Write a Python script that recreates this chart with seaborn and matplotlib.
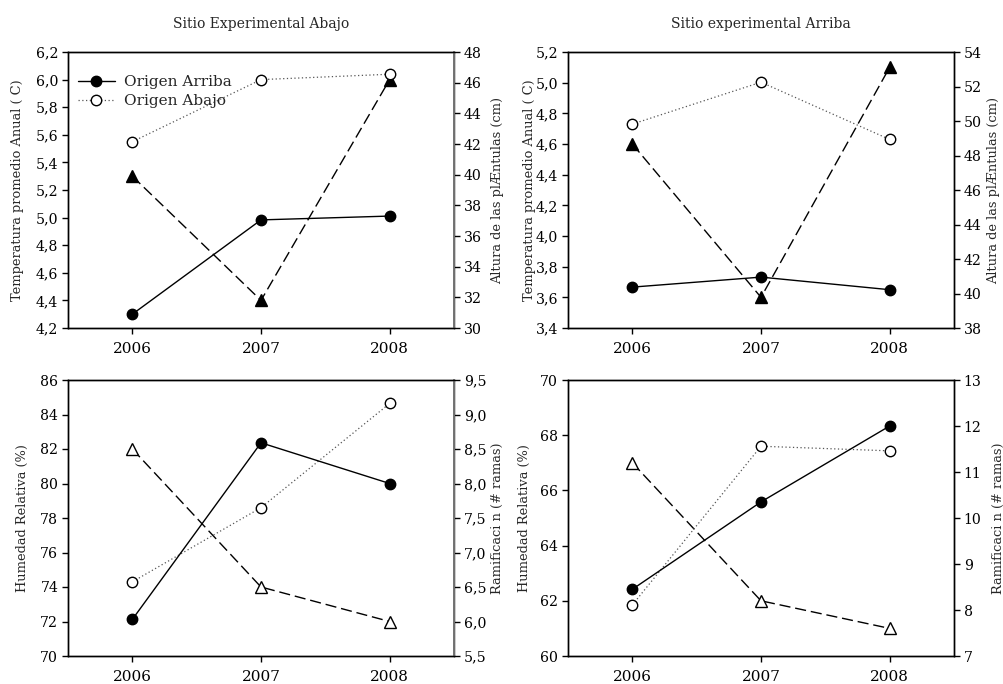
import matplotlib
matplotlib.use("Agg")
import matplotlib.pyplot as plt
from matplotlib.ticker import FuncFormatter, MultipleLocator
from matplotlib.lines import Line2D
import seaborn as sns
import pandas as pd

years = [2006, 2007, 2008]

# Top-left: Sitio Experimental Abajo
tl_temp = [5.3, 4.4, 6.0]
tl_arriba = [30.9, 37.05, 37.3]
tl_abajo = [42.15, 46.2, 46.55]

# Top-right: Sitio experimental Arriba
tr_temp = [4.6, 3.6, 5.1]
tr_arriba = [40.37, 40.95, 40.22]
tr_abajo = [49.82, 52.25, 48.93]

# Bottom-left: humidity / branching (site Abajo)
bl_hum = [82.0, 74.0, 72.0]
bl_arriba = [6.03, 8.59, 8.0]
bl_abajo = [6.575, 7.65, 9.16]

# Bottom-right: humidity / branching (site Arriba)
br_hum = [67.0, 62.0, 61.0]
br_arriba = [8.45, 10.35, 12.0]
br_abajo = [8.11, 11.56, 11.46]

titles = ["Sitio Experimental Abajo", "Sitio experimental Arriba"]
label_temp = "Temperatura promedio Anual ( C)"
label_alt = "Altura de las plÆntulas (cm)"
label_hum = "Humedad Relativa (%)"
label_ram = "Ramificaci n (# ramas)"
legend_labels = ["Origen Arriba", "Origen Abajo"]

sns.set_theme(style="ticks")
plt.rcParams["font.family"] = ["DejaVu Serif"]
plt.rcParams["axes.linewidth"] = 1.0

fig = plt.figure(figsize=(10.04, 6.84), dpi=100)

W = 386 / 1004
H = 276 / 684
positions = [
    (68 / 1004, 1 - 328 / 684, W, H),
    (568 / 1004, 1 - 328 / 684, W, H),
    (68 / 1004, 1 - 656 / 684, W, H),
    (568 / 1004, 1 - 656 / 684, W, H),
]

panels = [
    dict(left=tl_temp, arr=tl_arriba, aba=tl_abajo, lyl=(4.2, 6.2), lstep=0.2, ryl=(30, 48), rstep=2,
         lfmt=1, rfmt=0, llab=label_temp, rlab=label_alt, tri_fill="black", title=titles[0],
         legend=True, loff=50, roff=44, rspine="0.45"),
    dict(left=tr_temp, arr=tr_arriba, aba=tr_abajo, lyl=(3.4, 5.2), lstep=0.2, ryl=(38, 54), rstep=2,
         lfmt=1, rfmt=0, llab=label_temp, rlab=label_alt, tri_fill="black", title=titles[1],
         legend=False, loff=38, roff=40, rspine="black"),
    dict(left=bl_hum, arr=bl_arriba, aba=bl_abajo, lyl=(70, 86), lstep=2, ryl=(5.5, 9.5), rstep=0.5,
         lfmt=0, rfmt=1, llab=label_hum, rlab=label_ram, tri_fill="white", title=None,
         legend=False, loff=46, roff=43, rspine="0.45"),
    dict(left=br_hum, arr=br_arriba, aba=br_abajo, lyl=(60, 70), lstep=2, ryl=(7, 13), rstep=1,
         lfmt=0, rfmt=0, llab=label_hum, rlab=label_ram, tri_fill="white", title=None,
         legend=False, loff=44, roff=44, rspine="black"),
]


def fmt(decimals):
    return FuncFormatter(lambda v, p: (f"{v:.{decimals}f}").replace(".", ","))


xtick_fs = 11
ytick_fs = 10.2
label_fs = 9.4
msize = 7.5

for pos, p in zip(positions, panels):
    ax = fig.add_axes(pos)
    ax2 = ax.twinx()

    df_left = pd.DataFrame({"year": years, "v": p["left"]})
    df_arr = pd.DataFrame({"year": years, "v": p["arr"]})
    df_aba = pd.DataFrame({"year": years, "v": p["aba"]})

    sns.lineplot(data=df_left, x="year", y="v", ax=ax, color="black", linewidth=1.0,
                 linestyle=(0, (8, 3.5)), marker="^", markersize=8,
                 markerfacecolor=p["tri_fill"], markeredgecolor="black", markeredgewidth=1.0,
                 legend=False)
    sns.lineplot(data=df_aba, x="year", y="v", ax=ax2, color="#555555", linewidth=0.9,
                 linestyle=(0, (1, 2)), marker="o", markersize=msize,
                 markerfacecolor="white", markeredgecolor="black", markeredgewidth=1.0,
                 legend=False)
    sns.lineplot(data=df_arr, x="year", y="v", ax=ax2, color="black", linewidth=1.0,
                 linestyle="-", marker="o", markersize=msize,
                 markerfacecolor="black", markeredgecolor="black", markeredgewidth=1.0,
                 legend=False)

    ax.set_xlim(2005.5, 2008.5)
    ax.set_xticks(years)
    ax.set_xticklabels([str(y) for y in years])
    ax.set_ylim(*p["lyl"])
    ax.yaxis.set_major_locator(MultipleLocator(p["lstep"]))
    ax.yaxis.set_major_formatter(fmt(p["lfmt"]))
    ax2.set_ylim(*p["ryl"])
    ax2.yaxis.set_major_locator(MultipleLocator(p["rstep"]))
    ax2.yaxis.set_major_formatter(fmt(p["rfmt"]))

    ax.set_xlabel("")
    ax.set_ylabel(p["llab"], fontsize=label_fs)
    ax2.set_ylabel(p["rlab"], fontsize=label_fs)
    ax.yaxis.set_label_coords(-p["loff"] / 386, 0.5)
    ax2.yaxis.set_label_coords(1 + p["roff"] / 386, 0.5)
    ax.yaxis.label.set_verticalalignment("center")
    ax2.yaxis.label.set_verticalalignment("center")

    ax.tick_params(axis="both", direction="out", length=4, width=1,
                   colors="black", top=False, right=False)
    ax.tick_params(axis="x", pad=6, labelsize=xtick_fs)
    ax.tick_params(axis="y", pad=3, labelsize=ytick_fs)
    ax2.tick_params(axis="y", direction="out", length=4, width=1, labelsize=ytick_fs,
                    colors="black", pad=3, left=False, right=True)

    for s in ("left", "right", "top", "bottom"):
        ax.spines[s].set_color("black")
        ax.spines[s].set_linewidth(1.0)
        ax2.spines[s].set_color("black")
        ax2.spines[s].set_linewidth(1.0)
    ax2.spines["right"].set_visible(True)
    ax2.spines["right"].set_color(p["rspine"])
    ax2.spines["right"].set_linewidth(1.4 if p["rspine"] != "black" else 1.0)
    ax.set_facecolor("white")

    if p["title"]:
        ax.set_title(p["title"], fontsize=10, pad=17)

    if p["legend"]:
        handles = [
            Line2D([], [], color="black", linewidth=1.0, marker="o", markersize=msize,
                   markerfacecolor="black", markeredgecolor="black"),
            Line2D([], [], color="#555555", linewidth=0.9, linestyle=(0, (1, 2)), marker="o",
                   markersize=msize, markerfacecolor="white", markeredgecolor="black"),
        ]
        ax2.legend(handles, legend_labels, loc="upper left", bbox_to_anchor=(-0.01, 0.965),
                   frameon=False, fontsize=11, handlelength=2.4, handletextpad=0.6,
                   labelspacing=0.3, borderaxespad=0.5)

fig.savefig("out.png", dpi=100, facecolor="white")
